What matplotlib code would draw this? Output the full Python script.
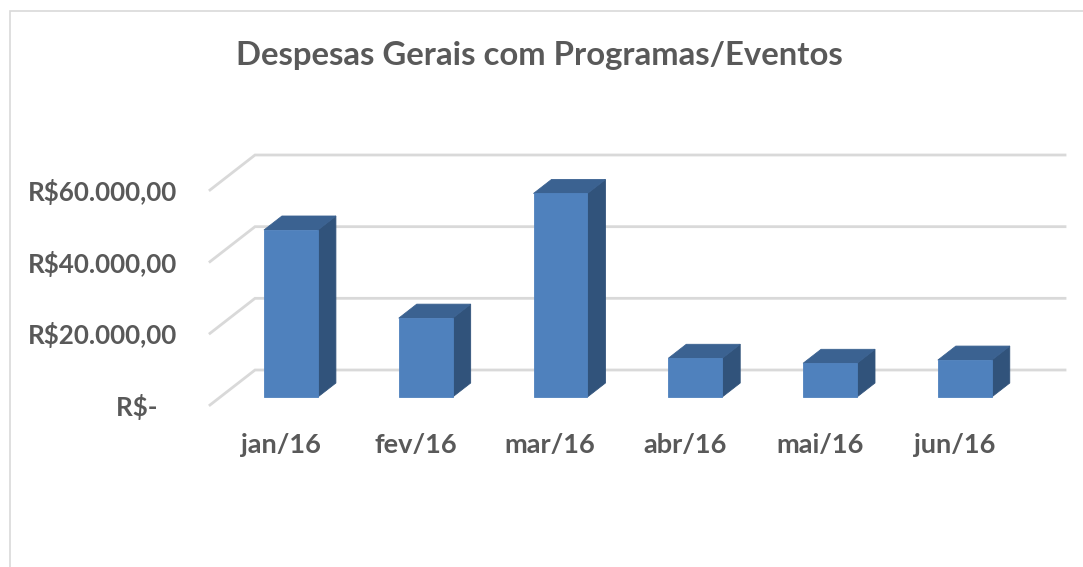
"""
Despesas Gerais com Programas/Eventos - 3D-style column chart
"""

import matplotlib.pyplot as plt
from matplotlib.patches import Polygon, Rectangle

months = ["jan/16", "fev/16", "mar/16", "abr/16", "mai/16", "jun/16"]
values = [46600, 22000, 56800, 10800, 9400, 10300]
y_ticks = [0, 20000, 40000, 60000]
y_labels = ["R$-   ", "R$20.000,00", "R$40.000,00", "R$60.000,00"]
title = "Despesas Gerais com Programas/Eventos"

TEXT = "#595959"
GRID = "#D9D9D9"
FRONT = "#4F81BD"
TOP = "#3B6291"
SIDE = "#31537B"

# oblique depth offset (one full unit of depth), in data units
DX = 0.334
DY = 9767
Z0, Z1 = 0.229, 0.629  # front/back of the bars
WIDTH = 0.4
XL, XR = -0.524, 5.486

plt.rcParams["font.family"] = ["Lato", "DejaVu Sans"]

W, H = 1083, 567
fig = plt.figure(figsize=(W / 100, H / 100), dpi=100)
fig.patches.append(Rectangle((10 / W, -0.1), 1.2, (H - 11) / H + 0.1, transform=fig.transFigure,
                             fill=False, edgecolor=GRID, linewidth=1.2))

ax = fig.add_axes([210 / W, (H - 405) / H, 810 / W, 215 / H])
ax.set_xlim(XL, XR)
ax.set_ylim(0, 60000)
for s in ax.spines.values():
    s.set_visible(False)


def proj(x, y, z):
    return (x + z * DX, y + z * DY)


# walls / gridlines
for v in y_ticks:
    pts = [proj(XL, v, 0), proj(XL, v, 1), proj(XR, v, 1)]
    ax.plot([p[0] for p in pts], [p[1] for p in pts], color=GRID, linewidth=2,
            clip_on=False, zorder=1, solid_joinstyle="miter")

# bars
for i, v in enumerate(values):
    x0, x1 = i - WIDTH / 2, i + WIDTH / 2
    front = [proj(x0, 0, Z0), proj(x1, 0, Z0), proj(x1, v, Z0), proj(x0, v, Z0)]
    side = [proj(x1, 0, Z0), proj(x1, 0, Z1), proj(x1, v, Z1), proj(x1, v, Z0)]
    top = [proj(x0, v, Z0), proj(x1, v, Z0), proj(x1, v, Z1), proj(x0, v, Z1)]
    for poly, c in ((side, SIDE), (top, TOP), (front, FRONT)):
        ax.add_patch(Polygon(poly, closed=True, facecolor=c, edgecolor=c, linewidth=0.6,
                             clip_on=False, zorder=2))

ax.set_yticks(y_ticks)
ax.set_yticklabels(y_labels)
ax.set_xticks(range(len(months)))
ax.set_xticklabels(months)
ax.tick_params(axis="y", length=0, pad=24, labelsize=18.7, labelcolor=TEXT)
ax.tick_params(axis="x", length=0, pad=20, labelsize=19.5, labelcolor=TEXT)
for lab in ax.get_xticklabels() + ax.get_yticklabels():
    lab.set_fontweight("bold")

fig.text(539 / W, 1 - 56 / H, title, ha="center", va="center", fontsize=23.7,
         fontweight="bold", color=TEXT)

fig.savefig("out.png", dpi=100)
